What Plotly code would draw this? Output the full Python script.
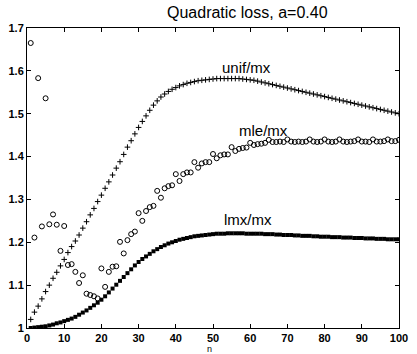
import plotly.graph_objects as go

n = list(range(1, 101))

unif = [1.020, 1.037, 1.051, 1.068, 1.085, 1.100, 1.116, 1.130, 1.145, 1.160,
        1.176, 1.190, 1.203, 1.217, 1.233, 1.248, 1.264, 1.279, 1.295, 1.310,
        1.326, 1.341, 1.357, 1.373, 1.388, 1.405, 1.422, 1.437, 1.453, 1.468,
        1.482, 1.495, 1.508, 1.520, 1.530, 1.539, 1.546, 1.552, 1.557, 1.561,
        1.565, 1.568, 1.571, 1.573, 1.575, 1.577, 1.578, 1.579, 1.580, 1.581,
        1.582, 1.582, 1.582, 1.582, 1.582, 1.582, 1.582, 1.581, 1.580, 1.579,
        1.578, 1.576, 1.574, 1.572, 1.570, 1.568, 1.566, 1.564, 1.562, 1.560,
        1.558, 1.556, 1.554, 1.552, 1.550, 1.548, 1.546, 1.544, 1.542, 1.540,
        1.538, 1.536, 1.534, 1.532, 1.530, 1.528, 1.526, 1.524, 1.522, 1.520,
        1.518, 1.516, 1.514, 1.512, 1.510, 1.508, 1.506, 1.504, 1.502, 1.500]

mle = [1.665, 1.211, 1.583, 1.237, 1.536, 1.242, 1.265, 1.241, 1.180, 1.238,
       1.147, 1.149, 1.131, 1.105, 1.123, 1.080, 1.077, 1.074, 1.069, 1.139,
       1.096, 1.131, 1.143, 1.144, 1.201, 1.174, 1.205, 1.219, 1.225, 1.268,
       1.250, 1.273, 1.282, 1.285, 1.320, 1.304, 1.326, 1.331, 1.333, 1.359,
       1.343, 1.359, 1.363, 1.363, 1.387, 1.374, 1.384, 1.387, 1.387, 1.406,
       1.396, 1.403, 1.405, 1.405, 1.422, 1.413, 1.418, 1.420, 1.421, 1.432,
       1.427, 1.429, 1.430, 1.432, 1.439, 1.434, 1.434, 1.435, 1.434, 1.440,
       1.435, 1.434, 1.435, 1.434, 1.435, 1.440, 1.435, 1.434, 1.435, 1.440,
       1.435, 1.434, 1.435, 1.440, 1.435, 1.434, 1.435, 1.436, 1.440, 1.435,
       1.435, 1.434, 1.440, 1.435, 1.435, 1.436, 1.440, 1.436, 1.436, 1.439]

lmx = [1.000, 1.001, 1.002, 1.003, 1.004, 1.006, 1.008, 1.011, 1.013, 1.016,
       1.019, 1.022, 1.026, 1.031, 1.036, 1.041, 1.047, 1.053, 1.059, 1.066,
       1.074, 1.083, 1.092, 1.101, 1.110, 1.119, 1.128, 1.137, 1.146, 1.154,
       1.161, 1.167, 1.173, 1.179, 1.184, 1.189, 1.193, 1.197, 1.200, 1.203,
       1.206, 1.208, 1.210, 1.212, 1.214, 1.215, 1.216, 1.217, 1.218, 1.219,
       1.220, 1.220, 1.220, 1.221, 1.221, 1.221, 1.221, 1.221, 1.220, 1.220,
       1.220, 1.220, 1.220, 1.219, 1.219, 1.219, 1.218, 1.218, 1.217, 1.217,
       1.217, 1.216, 1.216, 1.215, 1.215, 1.215, 1.214, 1.214, 1.213, 1.213,
       1.213, 1.212, 1.212, 1.212, 1.211, 1.211, 1.211, 1.210, 1.210, 1.210,
       1.209, 1.209, 1.209, 1.208, 1.208, 1.208, 1.207, 1.207, 1.207, 1.207]

x_ticks = [0, 10, 20, 30, 40, 50, 60, 70, 80, 90, 100]
x_tick_labels = ["0", "10", "20", "30", "40", "50", "60", "70", "80", "90", "100"]
y_ticks = [1.0, 1.1, 1.2, 1.3, 1.4, 1.5, 1.6, 1.7]
y_tick_labels = ["1", "1.1", "1.2", "1.3", "1.4", "1.5", "1.6", "1.7"]

series_labels = [("unif/mx", 59, 1.607), ("mle/mx", 63.5, 1.462), ("lmx/mx", 59.5, 1.253)]
title_text = "Quadratic loss, a=0.40"
x_label = "n"

FONT = "Liberation Sans, Arial, Helvetica, sans-serif"

fig = go.Figure()
fig.add_trace(go.Scatter(x=n, y=lmx, mode="markers",
                         marker=dict(symbol="square", size=4, color="black",
                                     line=dict(width=0)),
                         showlegend=False))
fig.add_trace(go.Scatter(x=n, y=unif, mode="markers",
                         marker=dict(symbol="cross-thin", size=4, color="black",
                                     line=dict(width=1, color="black")),
                         showlegend=False))
fig.add_trace(go.Scatter(x=n, y=mle, mode="markers",
                         marker=dict(symbol="circle-open", size=5, color="black",
                                     line=dict(width=1, color="black")),
                         showlegend=False))

for txt, xv, yv in series_labels:
    fig.add_annotation(x=xv, y=yv, text=txt, showarrow=False, xref="x", yref="y",
                       font=dict(family=FONT, size=15, color="black"))

fig.add_annotation(x=0.372, y=1.0, xref="paper", yref="paper", xanchor="left",
                   yanchor="bottom", yshift=5, text=title_text, showarrow=False,
                   font=dict(family=FONT, size=16, color="black"))
fig.add_annotation(x=0.49, y=0, xref="paper", yref="paper", yanchor="top",
                   yshift=-14, text=x_label, showarrow=False,
                   font=dict(family=FONT, size=9, color="black"))

axis_common = dict(showgrid=False, zeroline=False, showline=True, linecolor="black",
                   linewidth=1, mirror="ticks", ticks="inside", ticklen=4,
                   tickcolor="black", tickwidth=1,
                   tickfont=dict(family=FONT, size=11, color="black"))

fig.update_xaxes(range=[0, 100], tickvals=x_ticks,
                 ticktext=["<b>" + t + "</b>" for t in x_tick_labels], **axis_common)
fig.update_yaxes(range=[1.0, 1.7], tickvals=y_ticks,
                 ticktext=["<b>" + t + "</b>" for t in y_tick_labels], **axis_common)

fig.update_layout(width=417, height=354, margin=dict(l=26, r=9, t=28, b=26),
                  paper_bgcolor="white", plot_bgcolor="white",
                  font=dict(family=FONT, color="black"))

fig.write_html("out.html")
